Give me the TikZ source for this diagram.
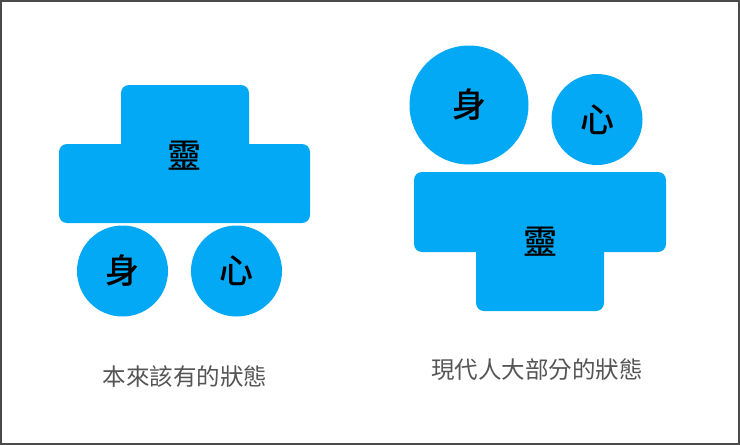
\documentclass[tikz,border=0pt]{standalone}
\usepackage{fontspec}
\newfontfamily\cjk{Noto Sans CJK TC}
\newfontfamily\cjkm{Noto Sans CJK TC Medium}
\definecolor{blu}{HTML}{03A9F4}
\definecolor{lab}{HTML}{555555}
\definecolor{frm}{HTML}{4A4A4A}
\begin{document}
\begin{tikzpicture}[x=1pt,y=-1pt,
  blob/.style={fill=blu,draw=none,rounded corners=8pt},
  dot/.style={circle,fill=blu,draw=none,inner sep=0pt},
  big/.style={font=\cjkm\fontsize{34}{34}\selectfont,text=black,inner sep=0pt},
  captxt/.style={font=\cjk\fontsize{23.5}{24}\selectfont,text=lab,inner sep=0pt}]
\useasboundingbox (0,0) rectangle (740,445);
\fill[white] (0,0) rectangle (740,445);
\draw[frm,line width=1.6pt] (0.8,0.8) rectangle (739.2,444.2);
% left: original state
\fill[blob] (121,85) rectangle (249,200);
\fill[blob] (59,144) rectangle (310,223);
\node[big] (lling) at (184,156) {靈};
\node[dot,minimum size=91pt] (lshen) at (122.5,271) {};
\node[dot,minimum size=91pt] (lxin) at (236.5,271) {};
\node[big] at (lshen) {身};
\node[big] at (lxin) {心};
\node[captxt] (lcap) at (185,377) {本來該有的狀態};
% right: modern state
\node[dot,minimum size=119pt] (rshen) at (469,105) {};
\node[dot,minimum size=91pt] (rxin) at (597,119.5) {};
\node[big] at (rshen) {身};
\node[big] at (rxin) {心};
\fill[blob] (414,172) rectangle (666,252);
\fill[blob] (476,200) rectangle (604,311);
\node[big] (rling) at (540,242) {靈};
\node[captxt] (rcap) at (537,370) {現代人大部分的狀態};
\end{tikzpicture}
\end{document}
